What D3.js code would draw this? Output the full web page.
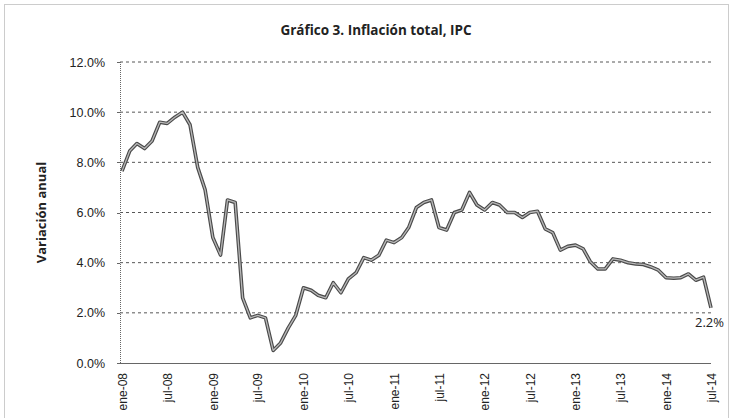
<!DOCTYPE html>
<html>
  <head>
    <meta http-equiv="Content-Type" content="text/html;charset=utf-8"/>
    <style type="text/css">

body {
  margin: 0;
  background: #fff;
}

svg {
  font-family: "Open Sans", "Noto Sans", sans-serif;
}

.grid line {
  stroke: #444;
  stroke-width: 0.9px;
  stroke-dasharray: 3,3;
}

.axis path, .axis line {
  fill: none;
  stroke: #666;
  shape-rendering: crispEdges;
}

.axis text {
  fill: #222;
}

    </style>
  </head>
  <body>
    <svg></svg>

    <script type="text/javascript" src="https://cdn.jsdelivr.net/npm/d3@7"></script>

    <script type="text/javascript">

// monthly, ene-08 .. jul-14
var firstMonth = new Date(2008, 0, 1),
    lastMonth = new Date(2014, 6, 1);

var inflation = [
  7.65, 8.45, 8.75, 8.55, 8.85, 9.6, 9.55, 9.8, 10.0, 9.5, 7.8, 6.9,
  5.0, 4.3, 6.5, 6.4, 2.6, 1.8, 1.9, 1.8, 0.5, 0.8, 1.4, 1.9,
  3.0, 2.9, 2.7, 2.6, 3.2, 2.8, 3.35, 3.6, 4.2, 4.1, 4.3, 4.9,
  4.8, 5.0, 5.4, 6.2, 6.4, 6.5, 5.4, 5.3, 6.0, 6.1, 6.8, 6.3,
  6.1, 6.4, 6.3, 6.0, 6.0, 5.8, 6.0, 6.05, 5.35, 5.2, 4.5, 4.65,
  4.7, 4.55, 4.05, 3.75, 3.75, 4.15, 4.1, 4.0, 3.95, 3.93, 3.83, 3.7,
  3.4, 3.38, 3.4, 3.55, 3.3, 3.42, 2.2
];

var xTickLabels = ["ene-08", "jul-08", "ene-09", "jul-09", "ene-10", "jul-10", "ene-11",
                   "jul-11", "ene-12", "jul-12", "ene-13", "jul-13", "ene-14", "jul-14"];

var yTicks = [0, 2, 4, 6, 8, 10, 12];

var title = "Gráfico 3. Inflación total, IPC",
    yTitle = "Variación anual",
    lastLabel = "2.2%";

var W = 733, H = 418;
var m = {top: 62, right: 22, bottom: 55, left: 120};

var svg = d3.select("svg")
    .attr("width", W)
    .attr("height", H);

// outer chart frame
svg.append("rect")
    .attr("x", 4.5).attr("y", 4.5)
    .attr("width", W - 9).attr("height", H)
    .attr("fill", "none")
    .attr("stroke", "#999")
    .attr("stroke-width", 1)
    .attr("stroke-dasharray", "1,1");

var months = d3.timeMonth.range(firstMonth, d3.timeMonth.offset(lastMonth, 1));
var data = months.map(function(d, i) { return {date: d, v: inflation[i]}; });

var x = d3.scaleTime()
    .domain([firstMonth, lastMonth])
    .range([m.left + 2, W - m.right]);

var y = d3.scaleLinear()
    .domain([0, 12])
    .range([H - m.bottom, m.top]);

var g = svg.append("g");

// gridlines
g.append("g")
    .attr("class", "grid")
  .selectAll("line")
    .data(yTicks.filter(function(t) { return t > 0; }))
  .enter().append("line")
    .attr("x1", m.left)
    .attr("x2", W - m.right)
    .attr("y1", function(d) { return y(d); })
    .attr("y2", function(d) { return y(d); });

// y axis
var yAxis = g.append("g")
    .attr("class", "axis")
    .attr("transform", "translate(" + m.left + ",0)")
    .call(d3.axisLeft(y)
      .tickValues(yTicks)
      .tickSize(3)
      .tickPadding(12)
      .tickFormat(function(d) { return d.toFixed(1) + "%"; }));
yAxis.selectAll("text").style("font-size", "12.5px");
yAxis.select(".domain").attr("stroke-dasharray", "1,1");

// x axis
var tickDates = d3.timeMonth.every(6).range(firstMonth, d3.timeMonth.offset(lastMonth, 1));
var xAxis = g.append("g")
    .attr("class", "axis")
    .attr("transform", "translate(0," + y(0) + ")")
    .call(d3.axisBottom(x)
      .tickValues(tickDates)
      .tickSize(0)
      .tickFormat(function(d, i) { return xTickLabels[i]; }));
xAxis.select(".domain").attr("d", "M" + m.left + ",0.5H" + (W - m.right)).attr("stroke", "#444");
xAxis.selectAll("text")
    .style("font-size", "12px")
    .attr("transform", "rotate(-90)")
    .attr("text-anchor", "end")
    .attr("x", -10)
    .attr("y", 0)
    .attr("dy", "0.35em");

// series line
var line = d3.line()
    .x(function(d) { return x(d.date); })
    .y(function(d) { return y(d.v); });

g.append("path")
    .datum(data)
    .attr("d", line)
    .attr("fill", "none")
    .attr("stroke", "#4a4a4a")
    .attr("stroke-width", 3.6)
    .attr("stroke-linejoin", "round");

g.append("path")
    .datum(data)
    .attr("d", line)
    .attr("fill", "none")
    .attr("stroke", "#b8b8b8")
    .attr("stroke-width", 1.3)
    .attr("stroke-linejoin", "round");

// last value label
var last = data[data.length - 1];
g.append("text")
    .attr("x", x(last.date) + 13)
    .attr("y", y(last.v) + 19)
    .attr("text-anchor", "end")
    .style("font-size", "13px")
    .attr("fill", "#222")
    .text(lastLabel);

// titles
svg.append("text")
    .attr("x", 376)
    .attr("y", 35)
    .attr("text-anchor", "middle")
    .style("font-size", "13.5px")
    .style("font-weight", "bold")
    .attr("fill", "#222")
    .text(title);

svg.append("text")
    .attr("transform", "translate(46," + ((y(0) + y(12)) / 2) + ") rotate(-90)")
    .attr("text-anchor", "middle")
    .style("font-size", "13px")
    .style("font-weight", "bold")
    .attr("fill", "#222")
    .text(yTitle);

    </script>
  </body>
</html>
